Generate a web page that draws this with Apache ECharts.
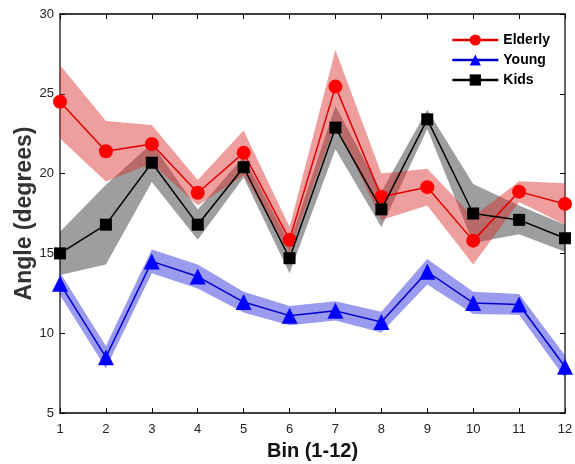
<!DOCTYPE html>
<html>
<head>
<meta charset="utf-8">
<script src="https://cdn.jsdelivr.net/npm/echarts@6/dist/echarts.min.js"></script>
<style>html,body{margin:0;padding:0;background:#fff}#c{width:575px;height:464px}</style>
</head>
<body>
<div id="c"></div>
<script>
var bins = ['1','2','3','4','5','6','7','8','9','10','11','12'];
var elderlyMean = [24.5, 21.4, 21.85, 18.8, 21.3, 15.85, 25.45, 18.55, 19.15, 15.8, 18.87, 18.1];
var elderlyErr  = [2.3, 1.9, 1.2, 0.8, 1.4, 0.8, 2.3, 1.45, 1.15, 1.5, 0.65, 1.3];
var youngMean   = [13.1, 8.5, 14.5, 13.55, 11.95, 11.1, 11.4, 10.7, 13.85, 11.9, 11.8, 7.9];
var youngErr    = [0.7, 0.7, 0.75, 0.75, 0.65, 0.6, 0.6, 0.65, 0.8, 0.7, 0.65, 0.7];
var kidsMean    = [15.0, 16.8, 20.68, 16.8, 20.4, 14.7, 22.88, 17.76, 23.4, 17.5, 17.1, 15.95];
var kidsErr     = [1.35, 2.5, 1.2, 0.95, 0.65, 0.95, 1.35, 1.1, 0.6, 1.85, 0.9, 0.85];

function lower(m, e){ return m.map(function(v,i){ return +(v - e[i]).toFixed(3); }); }
function width(e){ return e.map(function(v){ return +(2*v).toFixed(3); }); }

function band(name, m, e, color){
  return [
    {name: name + '_lo', type: 'line', stack: name, data: lower(m, e), symbol: 'none',
     lineStyle: {opacity: 0}, silent: true, z: 1},
    {name: name + '_band', type: 'line', stack: name, data: width(e), symbol: 'none',
     lineStyle: {opacity: 0}, areaStyle: {color: color, opacity: 1, origin: 'auto'}, silent: true, z: 1}
  ];
}

var chart = echarts.init(document.getElementById('c'));
var font = 'Arial, "Liberation Sans", sans-serif';
var series = [].concat(
  band('kids', kidsMean, kidsErr, 'rgba(0,0,0,0.38)'),
  band('elderly', elderlyMean, elderlyErr, 'rgba(220,40,40,0.45)'),
  band('young', youngMean, youngErr, 'rgba(30,30,220,0.45)'),
  [
    {name: 'Elderly', type: 'line', data: elderlyMean, symbol: 'circle', symbolSize: 14,
     itemStyle: {color: '#ff0000'}, lineStyle: {color: '#e00000', width: 1.5}, z: 3},
    {name: 'Young', type: 'line', data: youngMean, symbol: 'triangle', symbolSize: 16,
     itemStyle: {color: '#0000ff'}, lineStyle: {color: '#0000cc', width: 1.5}, z: 3},
    {name: 'Kids', type: 'line', data: kidsMean, symbol: 'rect', symbolSize: 12,
     itemStyle: {color: '#000000'}, lineStyle: {color: '#000000', width: 1.5}, z: 4}
  ]
);

chart.setOption({
  animation: false,
  backgroundColor: '#fff',
  grid: {left: 60, right: 10, top: 14, bottom: 51, containLabel: false, outerBoundsMode: 'none'},
  legend: {
    data: ['Elderly', 'Young', 'Kids'],
    orient: 'vertical',
    right: 20, top: 28,
    itemWidth: 46, itemHeight: 14, itemGap: 6,
    lineStyle: {width: 2.5},
    textStyle: {fontFamily: font, fontWeight: 'bold', fontSize: 14, color: '#000'},
    backgroundColor: '#fff'
  },
  xAxis: [
    {type: 'category', data: bins, boundaryGap: false,
     axisLine: {lineStyle: {color: '#000', width: 1.5}},
     axisTick: {inside: true, length: 5, alignWithLabel: true, lineStyle: {color: '#000'}},
     axisLabel: {fontFamily: font, fontSize: 13, color: '#222', margin: 10},
     name: 'Bin (1-12)', nameLocation: 'middle', nameGap: 28,
     nameTextStyle: {fontFamily: font, fontWeight: 'bold', fontSize: 20, color: '#111'},
     splitLine: {show: false}},
    {type: 'category', data: bins, boundaryGap: false, position: 'top',
     axisLine: {lineStyle: {color: '#000', width: 1.5}},
     axisTick: {inside: true, length: 5, lineStyle: {color: '#000'}},
     axisLabel: {show: false}, splitLine: {show: false}}
  ],
  yAxis: [
    {type: 'value', min: 5, max: 30, interval: 5,
     axisLine: {show: true, lineStyle: {color: '#333', width: 1.5}},
     axisTick: {show: true, inside: true, length: 5, lineStyle: {color: '#000'}},
     axisLabel: {fontFamily: font, fontSize: 13, color: '#222', margin: 6},
     splitLine: {show: false},
     name: 'Angle (degrees)', nameLocation: 'middle', nameGap: 24, nameMoveOverlap: false,
     nameTextStyle: {fontFamily: font, fontWeight: 'bold', fontSize: 23, color: '#333'}},
    {type: 'value', min: 5, max: 30, interval: 5, position: 'right',
     axisLine: {show: true, lineStyle: {color: '#333', width: 1.5}},
     axisTick: {show: true, inside: true, length: 5, lineStyle: {color: '#000'}},
     axisLabel: {show: false}, splitLine: {show: false}}
  ],
  series: series
});
</script>
</body>
</html>
